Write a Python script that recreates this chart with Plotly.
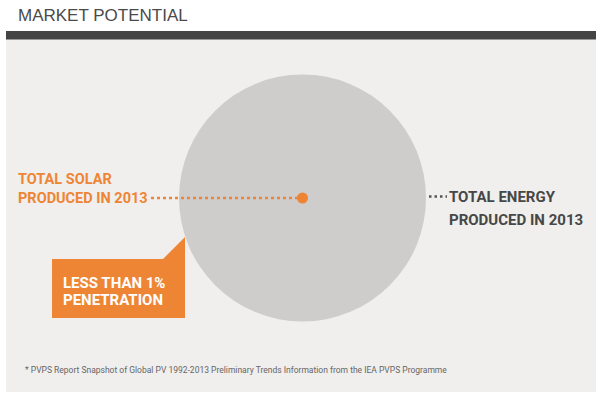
import plotly.graph_objects as go
import math

# ---- data ----
title_text = "MARKET POTENTIAL"
series_names = ["TOTAL ENERGY", "TOTAL SOLAR"]
series_label_lines = [["TOTAL ENERGY", "PRODUCED IN 2013"], ["TOTAL SOLAR", "PRODUCED IN 2013"]]
share_pct = [100.0, 0.2]          # share of total energy (area-proportional)
callout_lines = ["LESS THAN 1%", "PENETRATION"]
footnote = "* PVPS Report Snapshot of Global PV 1992-2013 Preliminary Trends Information from the IEA PVPS Programme"

# ---- style ----
W, H = 600, 399
ORANGE = "#ee8535"
GRAY_CIRCLE = "#cfcdcc"
PANEL = "#f0efed"
DARK = "#474747"
COND = "Roboto, Liberation Sans, sans-serif"

cx, cy = 302.5, 198
full_diam = 247
diams = [full_diam * math.sqrt(s / 100.0) for s in share_pct]

fig = go.Figure()

# total energy circle
fig.add_trace(go.Scatter(x=[cx], y=[cy], mode="markers",
                         marker=dict(size=[diams[0]], color=GRAY_CIRCLE, opacity=1,
                                     line=dict(width=0)),
                         text=[series_names[0]], hoverinfo="text"))
# dotted leader lines
fig.add_trace(go.Scatter(x=[151, cx - 4], y=[cy, cy], mode="lines",
                         line=dict(color=ORANGE, width=2.5, dash="3px,3px"),
                         hoverinfo="skip"))
fig.add_trace(go.Scatter(x=[429, 447], y=[196.5, 196.5], mode="lines",
                         line=dict(color="#555555", width=2.5, dash="2.5px,3px"),
                         hoverinfo="skip"))
# solar dot
fig.add_trace(go.Scatter(x=[cx], y=[cy], mode="markers",
                         marker=dict(size=[diams[1]], color=ORANGE, opacity=1,
                                     line=dict(width=0)),
                         text=[series_names[1]], hoverinfo="text"))

shapes = [
    dict(type="rect", xref="x", yref="y", x0=6, x1=596, y0=39, y1=392,
         fillcolor=PANEL, line=dict(width=0), layer="below"),
    dict(type="rect", xref="x", yref="y", x0=6, x1=596, y0=31, y1=39.5,
         fillcolor="#444444", line=dict(width=0), layer="below"),
    dict(type="path", xref="x", yref="y",
         path="M 52,259 L 163,259 L 185,237 L 185,318 L 52,318 Z",
         fillcolor=ORANGE, line=dict(width=0), layer="above"),
]

annotations = [
    dict(x=16, y=15, text=title_text, showarrow=False, xanchor="left", yanchor="middle",
         font=dict(family="Liberation Sans, Arial, sans-serif", size=17, color="#4a4a4a")),
    dict(x=23, y=370, text=footnote, showarrow=False, xanchor="left", yanchor="middle",
         font=dict(family="Liberation Sans Narrow, Roboto, sans-serif", size=8.5, color="#666666")),
]
# solar label (left)
for line, yy in zip(series_label_lines[1], [179, 197.5]):
    annotations.append(dict(x=16, y=yy + 0.5, text="<b>" + line + "</b>", showarrow=False,
                            xanchor="left", yanchor="middle",
                            font=dict(family=COND, size=14.5, color=ORANGE)))
# total energy label (right)
for line, yy in zip(series_label_lines[0], [196.5, 219.5]):
    annotations.append(dict(x=447, y=yy + 0.5, text="<b>" + line + "</b>", showarrow=False,
                            xanchor="left", yanchor="middle",
                            font=dict(family=COND, size=15, color=DARK)))
# callout
for line, yy in zip(callout_lines, [282.5, 299.5]):
    annotations.append(dict(x=61, y=yy + 0.5, text="<b>" + line + "</b>", showarrow=False,
                            xanchor="left", yanchor="middle",
                            font=dict(family=COND, size=15, color="white")))

fig.update_layout(
    width=W, height=H,
    margin=dict(l=0, r=0, t=0, b=0),
    paper_bgcolor="white", plot_bgcolor="rgba(0,0,0,0)",
    showlegend=False, hovermode="closest",
    xaxis=dict(range=[0, W], visible=False, fixedrange=True),
    yaxis=dict(range=[H, 0], visible=False, fixedrange=True),
    shapes=shapes, annotations=annotations,
)

fig.write_html("out.html", config={"displayModeBar": False},
               post_script="document.body.style.margin='0';document.body.style.overflow='hidden';")
